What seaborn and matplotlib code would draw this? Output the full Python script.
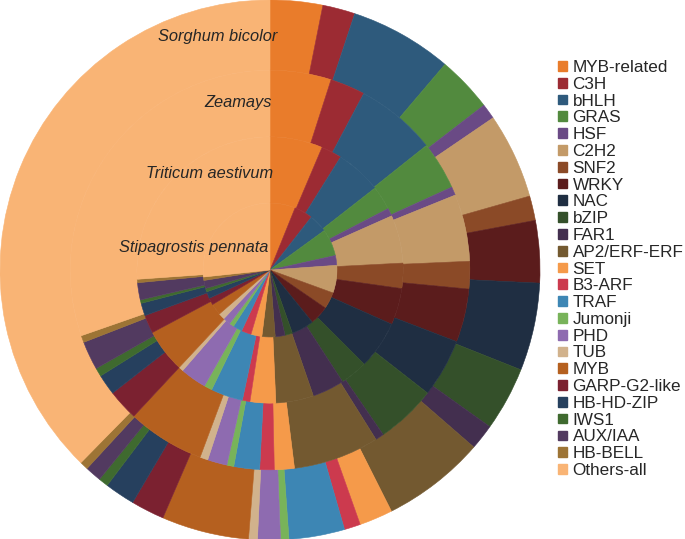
import matplotlib
matplotlib.use("Agg")
import matplotlib.pyplot as plt
from matplotlib.patches import Patch
import seaborn as sns

# TF families (legend order = order of wedges, clockwise from 12 o'clock)
families = ['MYB-related', 'C3H', 'bHLH', 'GRAS', 'HSF', 'C2H2', 'SNF2', 'WRKY',
            'NAC', 'bZIP', 'FAR1', 'AP2/ERF-ERF', 'SET', 'B3-ARF', 'TRAF',
            'Jumonji', 'PHD', 'TUB', 'MYB', 'GARP-G2-like', 'HB-HD-ZIP', 'IWS1',
            'AUX/IAA', 'HB-BELL', 'Others-all']

colors = ['#E97C2B', '#9C2B33', '#2E5A7C', '#528A3E', '#6A4A85', '#C39A68',
          '#8B4A27', '#5B1C1C', '#1F2E42', '#34502A', '#432F4F', '#735930',
          '#F59A4A', '#CC3A4E', '#3D86B4', '#78B35A', '#8E6BB0', '#D1B28C',
          '#B5601F', '#7B2130', '#26405E', '#3F6A2F', '#523A60', '#9D7435',
          '#F9B475']

# share of each family (%) per species
sorghum = [3.14, 1.94, 6.14, 3.33, 0.92, 5.11, 1.47, 3.72, 5.25, 3.83, 1.53, 6.19,
           2.00, 0.97, 3.33, 0.50, 1.36, 0.53, 5.22, 2.00, 1.81, 0.58, 0.97, 0.50, 37.64]
zeamays = [4.94, 2.83, 6.53, 3.89, 0.69, 5.42, 2.22, 4.31, 4.72, 4.86, 0.69, 6.94,
           1.61, 1.17, 2.08, 0.56, 1.58, 0.64, 6.25, 2.50, 1.67, 0.69, 2.31, 0.56, 30.33]
triticum = [6.39, 2.50, 5.56, 2.92, 0.97, 5.83, 3.06, 4.44, 5.83, 3.33, 3.89, 4.58,
            3.11, 0.92, 3.89, 0.97, 3.19, 0.56, 5.28, 2.22, 1.53, 0.42, 2.08, 0.42, 26.11]
stipagrostis = [6.11, 4.44, 4.44, 6.53, 2.36, 6.67, 4.03, 4.58, 5.42, 1.81, 2.36, 3.19,
                2.64, 2.36, 2.22, 1.11, 1.81, 1.53, 2.78, 1.67, 1.67, 0.83, 1.94, 0.83, 26.67]

species = ['Sorghum bicolor', 'Zeamays', 'Triticum aestivum', 'Stipagrostis pennata']
rings = [sorghum, zeamays, triticum, stipagrostis]

sns.set_style("white")
plt.rcParams['font.family'] = ['Liberation Sans', 'DejaVu Sans']

fig = plt.figure(figsize=(6.85, 5.39), dpi=100)
ax = fig.add_axes([0, -1 / 539, 540 / 685, 540 / 539])

# outer -> inner ring radii
radii = [1.0, 0.74, 0.493, 0.248]
for i, vals in enumerate(rings):
    r = radii[i]
    w = r - radii[i + 1] if i < len(radii) - 1 else r
    wedges, _ = ax.pie(vals, radius=r, colors=colors, startangle=90, counterclock=False,
                       wedgeprops=dict(width=w, linewidth=0))
    for wd in wedges:
        wd.set_edgecolor(wd.get_facecolor())
        wd.set_linewidth(0.4)

ax.set_xlim(-1, 1)
ax.set_ylim(-1, 1)
ax.set_aspect('equal')
ax.axis('off')

# species names, right-aligned just left of 12 o'clock
label_pos = [(0.026, 0.863), (0.007, 0.619), (0.011, 0.359), (-0.007, 0.085)]
for name, (x, y) in zip(species, label_pos):
    ax.text(x, y, name, ha='right', va='center', fontsize=11.8, style='italic')

handles = [Patch(facecolor=c, edgecolor=c, label=f) for c, f in zip(colors, families)]
fig.legend(handles=handles, loc='upper left', bbox_to_anchor=(558 / 685, 1 - 60 / 539),
           frameon=False, fontsize=12.3, handlelength=0.5, handleheight=0.5,
           handletextpad=0.35, labelspacing=0.105, borderpad=0, borderaxespad=0)

fig.savefig('out.png', dpi=100)
